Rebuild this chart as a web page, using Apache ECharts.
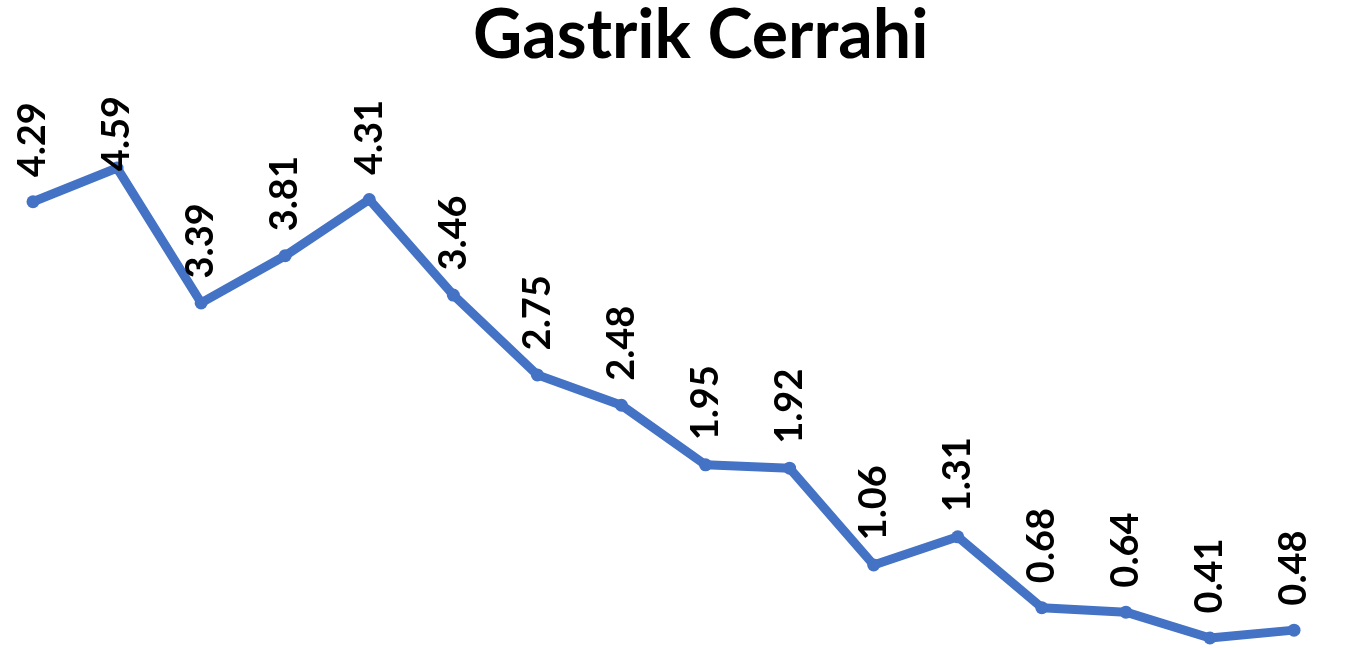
<!DOCTYPE html>
<html>
<head>
<meta charset="utf-8">
<script src="https://cdn.jsdelivr.net/npm/echarts@6/dist/echarts.min.js"></script>
<style>
  html, body { margin: 0; padding: 0; background: #ffffff; }
  #chart { width: 1345px; height: 648px; }
</style>
</head>
<body>
<div id="chart"></div>
<script>
// Sixteen consecutive periods along the x axis
const categories = ['1','2','3','4','5','6','7','8','9','10','11','12','13','14','15','16'];
// Values plotted for Gastrik Cerrahi
const values = [4.29, 4.59, 3.39, 3.81, 4.31, 3.46, 2.75, 2.48, 1.95, 1.92, 1.06, 1.31, 0.68, 0.64, 0.41, 0.48];
const chartTitle = 'Gastrik Cerrahi';

// Labels may not rise above this line; taller ones slide down onto their point
const LABEL_CEILING = 96;

const chart = echarts.init(document.getElementById('chart'), null, { renderer: 'canvas' });
chart.setOption({
  backgroundColor: '#ffffff',
  animation: false,
  title: {
    text: chartTitle,
    left: 468,
    top: -3,
    textStyle: { fontFamily: 'Lato', fontWeight: 'bold', fontSize: 68, color: '#000000' }
  },
  grid: { left: 33, right: 51, top: 168, bottom: 10 },
  xAxis: {
    type: 'category',
    data: categories,
    boundaryGap: false,
    show: false
  },
  yAxis: {
    type: 'value',
    min: 0.41,
    max: 4.59,
    show: false
  },
  series: [{
    type: 'line',
    data: values,
    symbol: 'circle',
    symbolSize: 13,
    clip: false,
    lineStyle: { color: '#4472C4', width: 9 },
    itemStyle: { color: '#4472C4' },
    label: {
      show: true,
      position: 'top',
      distance: 18,
      rotate: 90,
      align: 'left',
      verticalAlign: 'middle',
      fontFamily: 'Lato',
      fontWeight: 'bold',
      fontSize: 38,
      color: '#000000',
      formatter: p => p.value.toFixed(2)
    },
    // offsets act along the rotated text, so pushing down means a negative dx
    labelLayout: p => (p.labelRect.y < LABEL_CEILING ? { dx: p.labelRect.y - LABEL_CEILING } : {})
  }]
});
</script>
</body>
</html>
